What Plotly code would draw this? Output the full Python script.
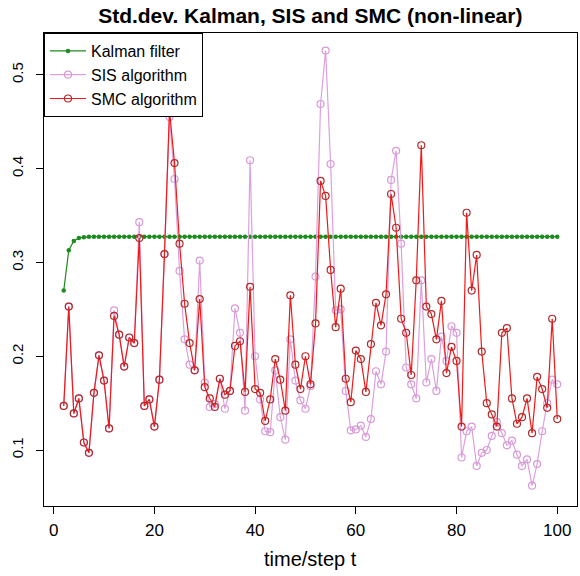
import plotly.graph_objects as go

t = list(range(2, 101))

kalman = [0.270, 0.313, 0.323, 0.326, 0.327] + [0.3275] * 94

sis = [0.147, 0.253, 0.139, 0.155, 0.108, 0.097, 0.161, 0.201, 0.174, 0.123,
       0.249, 0.223, 0.189, 0.220, 0.214, 0.343, 0.147, 0.154, 0.125, 0.175,
       0.309, 0.455, 0.389, 0.291, 0.218, 0.191, 0.185, 0.302, 0.172, 0.146,
       0.149, 0.176, 0.144, 0.163, 0.251, 0.225, 0.142, 0.409, 0.200, 0.154,
       0.120, 0.119, 0.185, 0.135, 0.111, 0.218, 0.174, 0.153, 0.144, 0.168,
       0.285, 0.469, 0.526, 0.405, 0.249, 0.250, 0.163, 0.121, 0.122, 0.126,
       0.114, 0.133, 0.184, 0.170, 0.205, 0.388, 0.419, 0.320, 0.188, 0.170,
       0.155, 0.281, 0.172, 0.197, 0.163, 0.221, 0.195, 0.232, 0.225, 0.092,
       0.120, 0.125, 0.083, 0.097, 0.100, 0.115, 0.130, 0.118, 0.105, 0.110,
       0.095, 0.083, 0.090, 0.062, 0.085, 0.120, 0.150, 0.175, 0.170]

smc = [0.147, 0.253, 0.139, 0.155, 0.108, 0.097, 0.161, 0.201, 0.174, 0.123,
       0.243, 0.223, 0.189, 0.220, 0.214, 0.326, 0.147, 0.154, 0.125, 0.175,
       0.309, 0.462, 0.406, 0.320, 0.256, 0.214, 0.185, 0.261, 0.167, 0.155,
       0.146, 0.176, 0.159, 0.163, 0.211, 0.216, 0.162, 0.274, 0.165, 0.161,
       0.131, 0.154, 0.197, 0.175, 0.142, 0.265, 0.191, 0.165, 0.200, 0.170,
       0.235, 0.387, 0.371, 0.292, 0.231, 0.272, 0.176, 0.151, 0.206, 0.197,
       0.162, 0.213, 0.257, 0.233, 0.266, 0.373, 0.337, 0.240, 0.225, 0.180,
       0.281, 0.425, 0.253, 0.245, 0.218, 0.259, 0.182, 0.210, 0.195, 0.125,
       0.353, 0.270, 0.308, 0.205, 0.150, 0.138, 0.125, 0.225, 0.230, 0.155,
       0.128, 0.135, 0.155, 0.118, 0.178, 0.165, 0.145, 0.240, 0.133]

x_ticks = [0, 20, 40, 60, 80, 100]
y_ticks = [0.1, 0.2, 0.3, 0.4, 0.5]

FONT = "Liberation Sans, Arial, sans-serif"

fig = go.Figure()
fig.add_trace(go.Scatter(
    x=t, y=kalman, name="Kalman filter", mode="lines+markers",
    line=dict(color="#1E8B1E", width=1.2),
    marker=dict(symbol="circle", size=4.5, color="#1E8B1E"),
))
fig.add_trace(go.Scatter(
    x=t, y=sis, name="SIS algorithm", mode="lines+markers",
    line=dict(color="#DDA0DD", width=1.2),
    marker=dict(symbol="circle-open", size=7, color="#D79AD7", line=dict(width=1.2)),
))
fig.add_trace(go.Scatter(
    x=t, y=smc, name="SMC algorithm", mode="lines+markers",
    line=dict(color="#F01818", width=1.2),
    marker=dict(symbol="circle-open", size=7, color="#B22A2A", line=dict(width=1.2)),
))

fig.update_layout(
    width=580, height=576,
    margin=dict(l=44, r=3, t=33, b=70),
    paper_bgcolor="white", plot_bgcolor="white",
    font=dict(family=FONT, size=16, color="black"),
    title=dict(text="<b>Std.dev. Kalman, SIS and SMC (non-linear)</b>",
               x=0.535, xanchor="center", y=1 - 16 / 576, yanchor="middle",
               font=dict(size=21, color="black")),
    showlegend=True,
    legend=dict(x=0, y=1, xanchor="left", yanchor="top",
                bgcolor="white", bordercolor="black", borderwidth=1,
                font=dict(size=16), tracegroupgap=0, itemwidth=36),
    xaxis=dict(range=[-1.92, 103.92], tickvals=x_ticks, ticks="outside",
               ticklen=7, tickcolor="black", showline=True, linecolor="black",
               linewidth=1, mirror=True, showgrid=False, zeroline=False,
               tickfont=dict(size=17), ticklabelstandoff=2),
    yaxis=dict(range=[0.0403, 0.5447], tickvals=y_ticks, ticks="outside",
               ticklen=7, tickcolor="black", showline=True, linecolor="black",
               linewidth=1, mirror=True, showgrid=False, zeroline=False,
               tickangle=-90, tickfont=dict(size=15), ticklabelstandoff=7),
    annotations=[dict(text="time/step t", xref="paper", yref="paper",
                      x=0.5, y=-(559 - 506) / 473, xanchor="center",
                      yanchor="middle", showarrow=False,
                      font=dict(size=20, color="black"))],
)

fig.write_html("out.html")
